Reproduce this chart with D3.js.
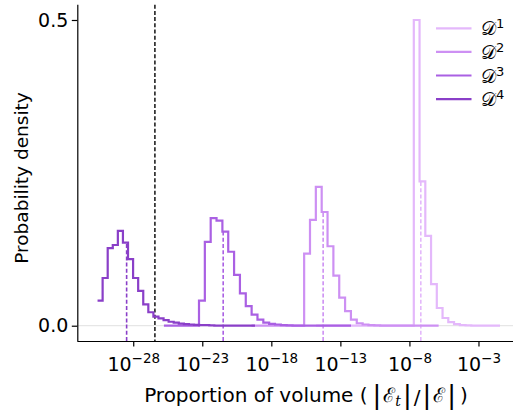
<!DOCTYPE html>
<html>
<script src="https://d3js.org/d3.v7.min.js"></script>
<style>
body {margin: 0; background: #fff;}
text {font-family: "DejaVu Sans", sans-serif; fill: #000;}
</style>
<body>
<svg id="chart"></svg>
<script>
// histogram outlines, one per dataset D1..D4 (log10 of first bin edge, bin width in decades, densities)
const seriesNames = ["1", "2", "3", "4"];
const seriesColors = ["#e4b8fb", "#cd90f3", "#aa60e3", "#8a3fc8"];
const binStart = [-14.758, -19.434, -25.778, -30.584];
const binWidth = [0.4162, 0.4234, 0.4234, 0.3677];
const d1 = [0,0,0,0,0,0,0,0,0,0,0,0,0,0,0,0,0, 0.5,0.236,0.147,0.068,0.029,0.0126,0.006,0.0025,0.001,0.0005, 0,0,0,0,0];
const d2 = [0,0,0,0,0,0,0,0,0, 0.118,0.173,0.227,0.186,0.130,0.082,0.046,0.024,0.010,0.004,0.002,0.001,0.0005, 0,0,0,0,0,0,0,0,0,0];
const d3v = [0,0,0,0,0,0, 0.041,0.137,0.176,0.172,0.154,0.121,0.083,0.053,0.032,0.018,0.010,0.005,0.003,0.002,0.001,0.0005, 0,0,0,0,0,0,0,0,0,0];
const d4 = [0.041,0.078,0.127,0.132,0.155,0.136,0.109,0.078,0.057,0.035,0.022,0.015,0.012,0.009,0.0065,0.005,0.0035,0.0025,0.002,0.0015,0.001,0.0008,0.0005, 0,0,0,0,0,0,0,0];
const densities = [d1, d2, d3v, d4];
const medians = [-7.176, -14.248, -21.486, -28.478];   // log10 of median
const threshold = -26.43;                              // black dashed line
const xTicks = [-28, -23, -18, -13, -8, -3];
const yTicks = [0.0, 0.5];

const W = 515, H = 410;
const svg = d3.select("#chart").attr("width", W).attr("height", H);

const x = d3.scaleLog().domain([Math.pow(10, -32.05), Math.pow(10, -0.5)]).range([77.3, 513]);
const y = d3.scaleLinear().domain([-0.025, 0.525]).range([341, 4.7]);

// light line at zero
svg.append("line")
  .attr("x1", 77.3).attr("x2", 513)
  .attr("y1", y(0)).attr("y2", y(0))
  .attr("stroke", "#e6e6e6").attr("stroke-width", 1.2);

// threshold
svg.append("line")
  .attr("x1", x(Math.pow(10, threshold))).attr("x2", x(Math.pow(10, threshold)))
  .attr("y1", 4.7).attr("y2", 341)
  .attr("stroke", "#000").attr("stroke-width", 1.4)
  .attr("stroke-dasharray", "4,2.2");

const line = d3.line().x(d => x(Math.pow(10, d[0]))).y(d => y(d[1]));

densities.forEach(function(vals, k) {
  const pts = [];
  vals.forEach(function(v, i) {
    pts.push([binStart[k] + i * binWidth[k], v]);
    pts.push([binStart[k] + (i + 1) * binWidth[k], v]);
  });
  svg.append("path")
    .attr("d", line(pts))
    .attr("fill", "none")
    .attr("stroke", seriesColors[k])
    .attr("stroke-width", 2.2)
    .attr("stroke-linejoin", "miter");

  // median: dashed up to the curve
  const bi = Math.floor((medians[k] - binStart[k]) / binWidth[k]);
  svg.append("line")
    .attr("x1", x(Math.pow(10, medians[k]))).attr("x2", x(Math.pow(10, medians[k])))
    .attr("y1", 341).attr("y2", y(vals[bi]))
    .attr("stroke", seriesColors[k]).attr("stroke-width", 1.6)
    .attr("stroke-dasharray", "4,2.2");
});

// axes
const gx = svg.append("g").attr("transform", "translate(0,341)")
  .call(d3.axisBottom(x).tickValues(xTicks.map(t => Math.pow(10, t))).tickFormat("").tickSize(5.5).tickSizeOuter(0));
gx.select(".domain").attr("stroke-width", 1.2);
gx.selectAll(".tick line").attr("stroke-width", 1.2);
gx.selectAll(".tick").each(function(d, i) {
  const t = d3.select(this).append("text")
    .attr("y", 30).attr("text-anchor", "middle").attr("font-size", 19).attr("fill", "#000");
  t.append("tspan").text("10");
  t.append("tspan").attr("dy", -8).attr("font-size", 13.5).text("\u2212" + (-xTicks[i]));
});

const gy = svg.append("g").attr("transform", "translate(77.3,0)")
  .call(d3.axisLeft(y).tickValues(yTicks).tickFormat(d3.format(".1f")).tickSize(5.5).tickSizeOuter(0));
gy.select(".domain").attr("stroke-width", 1.2);
gy.selectAll(".tick line").attr("stroke-width", 1.2);
gy.selectAll(".tick text").attr("font-size", 19).attr("font-family", "DejaVu Sans").attr("x", -9);
gx.select(".domain").attr("d", "M77.3,0.5H513");
gy.select(".domain").attr("d", "M0.5,4.7V341");

// axis labels
svg.append("text")
  .attr("transform", "translate(28,178) rotate(-90)")
  .attr("text-anchor", "middle").attr("font-size", 18.5)
  .text("Probability density");

const xl = svg.append("text").attr("x", 306).attr("y", 402).attr("text-anchor", "middle").attr("font-size", 20);
xl.append("tspan").text("Proportion of volume (");
xl.append("tspan").attr("font-size", 26).attr("dx", 5).attr("dy", 2).text("|");
xl.append("tspan").attr("font-family", "DejaVu Serif").attr("dx", 2).attr("dy", -2).text("\u2130");
xl.append("tspan").attr("font-family", "DejaVu Serif").attr("font-style", "italic").attr("font-size", 14).attr("dy", 4).text("t");
xl.append("tspan").attr("font-size", 26).attr("dx", 2).attr("dy", -2).text("|");
xl.append("tspan").attr("dx", 2).text("/");
xl.append("tspan").attr("font-size", 26).attr("dx", 2).text("|");
xl.append("tspan").attr("font-family", "DejaVu Serif").attr("dx", 2).attr("dy", -2).text("\u2130");
xl.append("tspan").attr("font-size", 26).attr("dx", 2).attr("dy", 2).text("|");
xl.append("tspan").attr("dx", 4).attr("dy", -2).text(")");

// legend
const lg = svg.append("g");
seriesNames.forEach(function(n, k) {
  const ly = 28.3 + k * 23.6;
  lg.append("line").attr("x1", 436).attr("x2", 471.5).attr("y1", ly).attr("y2", ly)
    .attr("stroke", seriesColors[k]).attr("stroke-width", 2.2);
  const t = lg.append("text").attr("x", 481).attr("y", ly + 7).attr("font-size", 18.5);
  t.append("tspan").text("\uD835\uDC9F");
  t.append("tspan").attr("dy", -7).attr("font-size", 13).text(n);
});
</script>
</body>
</html>
